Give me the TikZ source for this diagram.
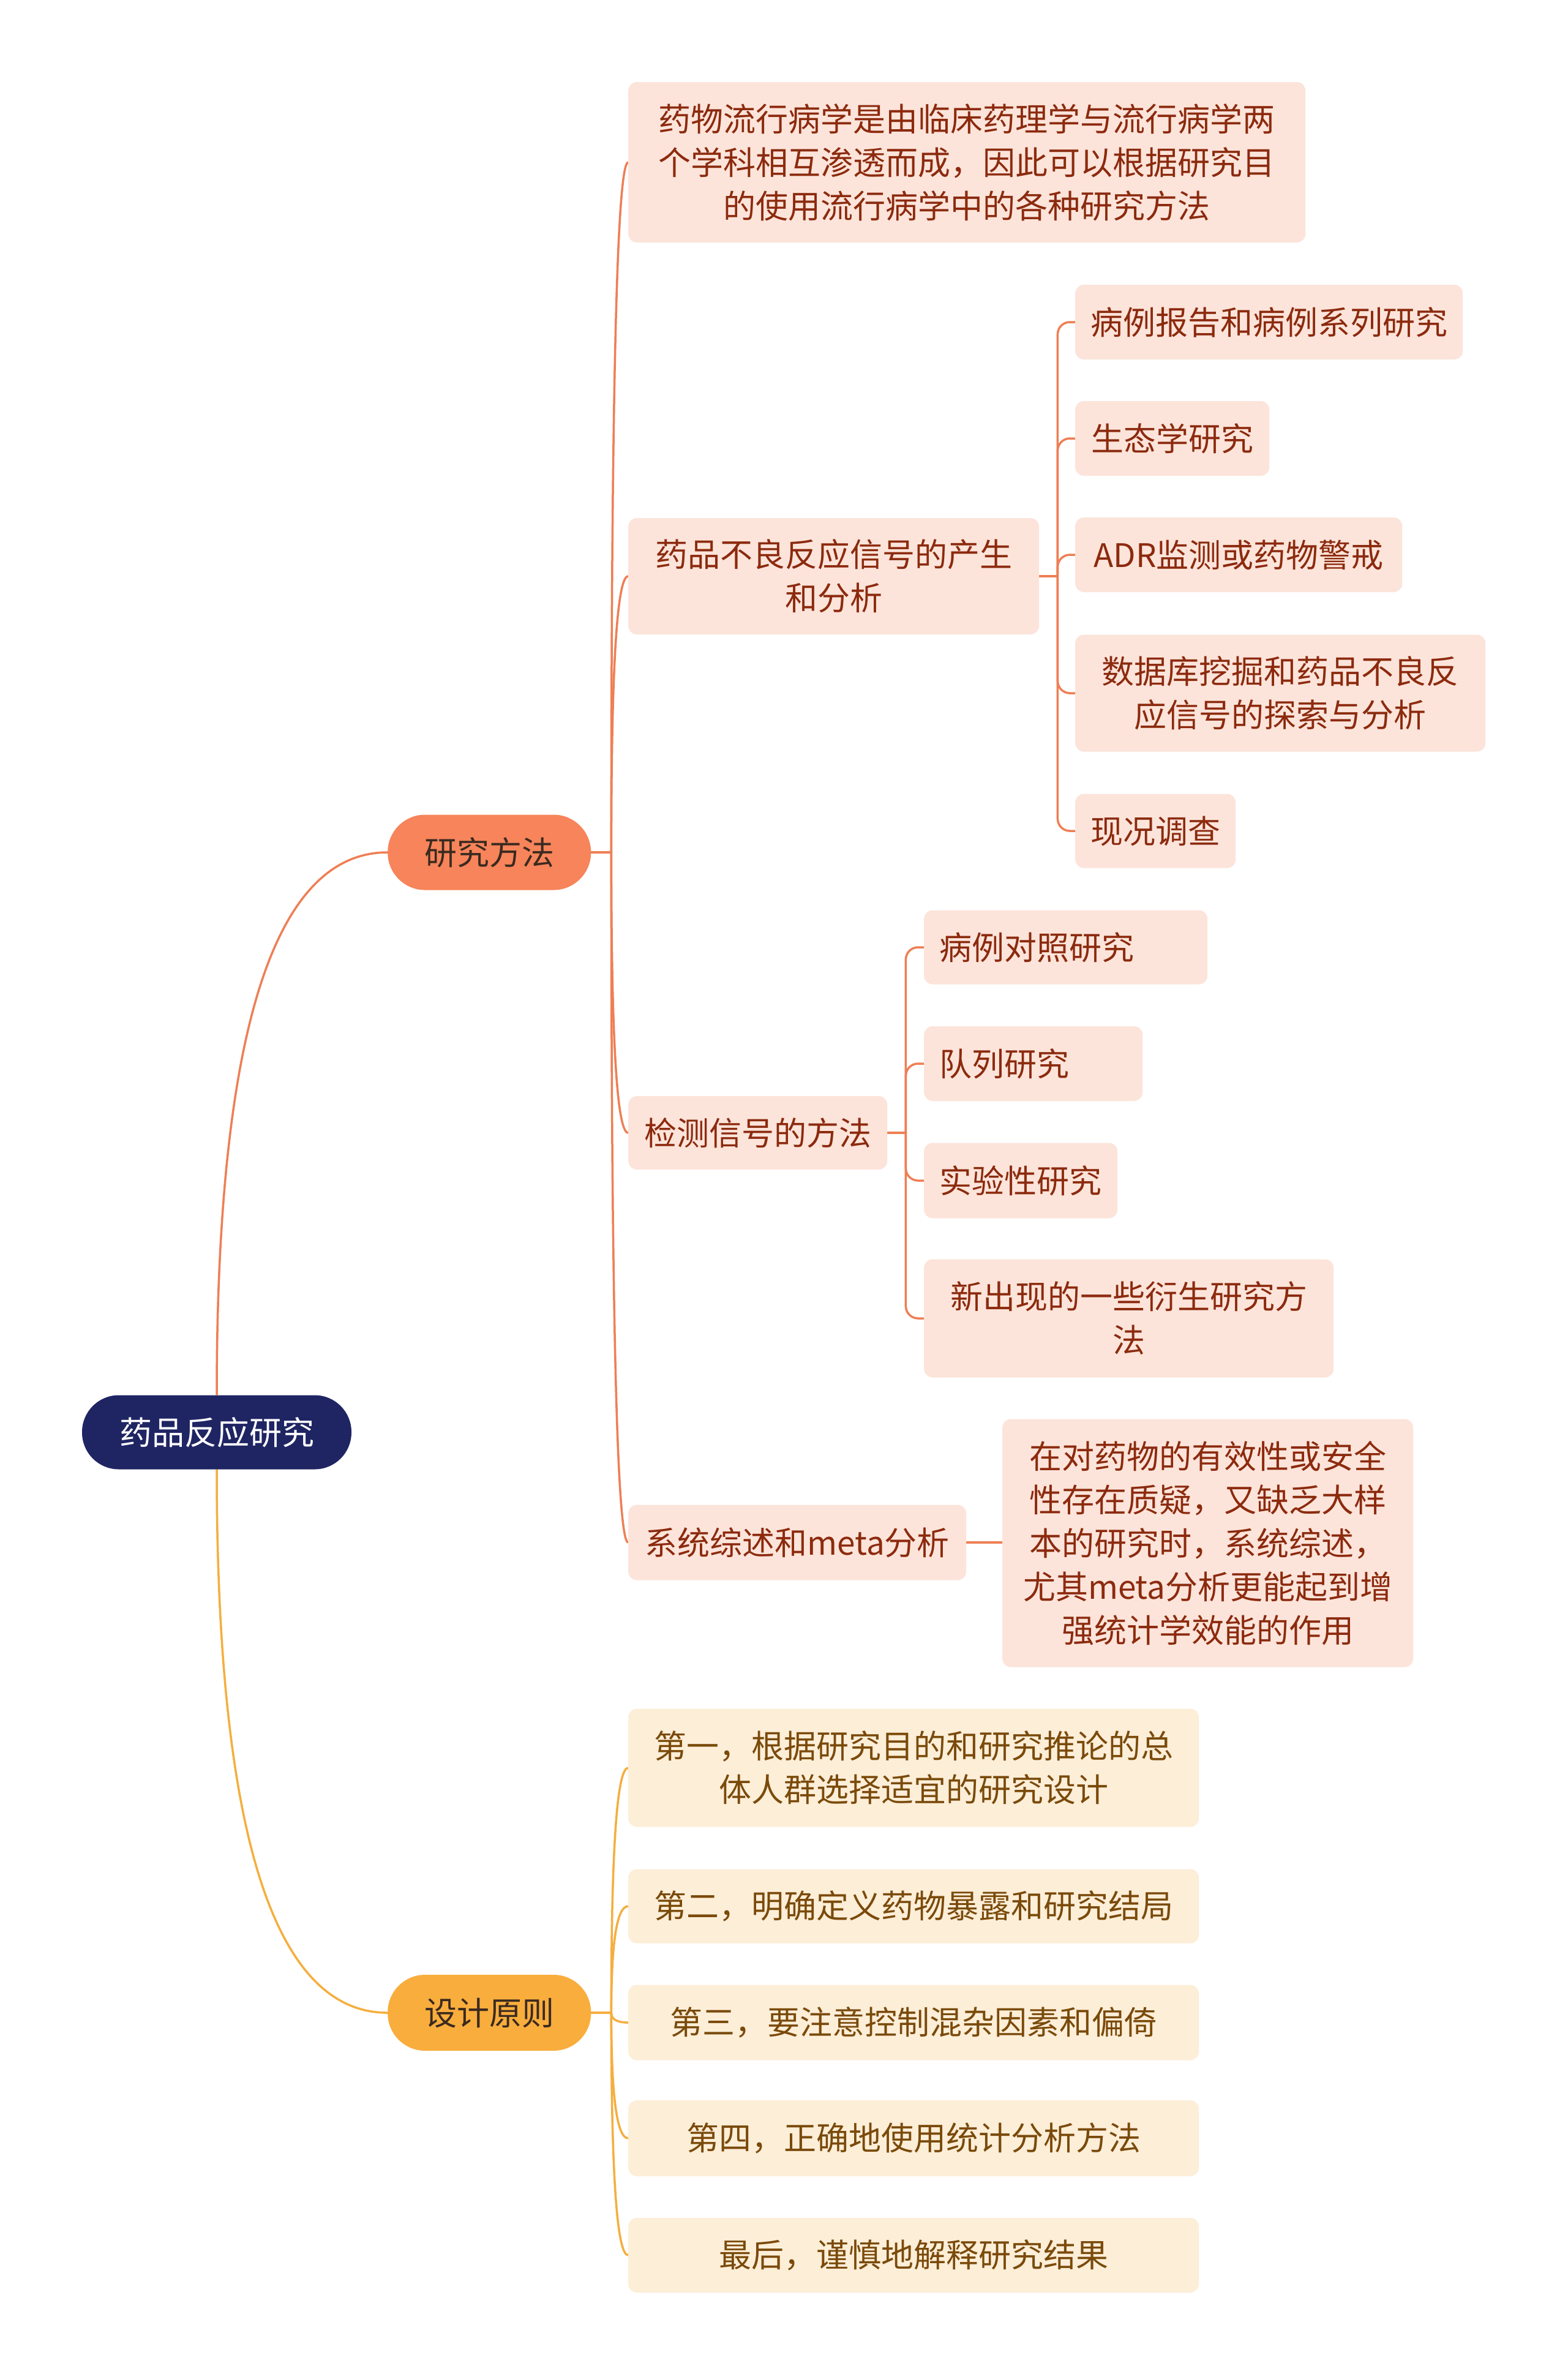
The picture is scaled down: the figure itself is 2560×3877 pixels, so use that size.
\documentclass[tikz,border=0pt]{standalone}
\usepackage{fontspec}
\setmainfont{Noto Sans CJK SC}
\usetikzlibrary{calc,backgrounds}
\definecolor{rootfill}{HTML}{1F2563}
\definecolor{orangefill}{HTML}{F7845A}
\definecolor{yellowfill}{HTML}{F9AD3C}
\definecolor{mainText}{HTML}{3A2A20}
\definecolor{pinkfill}{HTML}{FCE4DA}
\definecolor{pinktext}{HTML}{8C2A0E}
\definecolor{creamfill}{HTML}{FDEED8}
\definecolor{creamtext}{HTML}{7A4A0A}
\definecolor{oline}{HTML}{EE7F55}
\definecolor{yline}{HTML}{F5AE3E}
\tikzset{
  base/.style={align=center, inner sep=0pt, font=\fontsize{53}{71}\selectfont},
  rootnode/.style={base, anchor=center, fill=rootfill, text=white, rounded corners=60pt},
  mainO/.style={base, anchor=west, fill=orangefill, text=mainText, rounded corners=61pt},
  mainY/.style={base, anchor=west, fill=yellowfill, text=mainText, rounded corners=61pt},
  pinkbox/.style={base, anchor=west, fill=pinkfill, text=pinktext, rounded corners=14pt},
  creambox/.style={base, anchor=west, fill=creamfill, text=creamtext, rounded corners=14pt},
  leftbox/.style 2 args={pinkbox, align=left, inner xsep=25pt, text width=#1pt-50pt, minimum height=#2pt},
  olink/.style={draw=oline, line width=3.5pt},
  ylink/.style={draw=yline, line width=3.5pt},
  elbowO/.style={olink, rounded corners=20pt},
  wh/.style 2 args={minimum width=#1pt, minimum height=#2pt},
}
\newcommand\qcurve[3]{%
  \coordinate (k-#3) at (#2 |- #3.west);
  \draw[#1] (#2) .. controls ($(#2)!2/3!(k-#3)$) and ($(#3.west)!2/3!(k-#3)$) .. (#3.west);
}
\begin{document}
\begin{tikzpicture}[x=1pt,y=-1pt]
\useasboundingbox (0,0) rectangle (2560,3877);

% root and main branches
\node[rootnode, wh={440}{121}] (root) at (354,2339) {药品反应研究};
\node[mainO, wh={332}{123}] (rm) at (633,1392) {研究方法};
\node[mainY, wh={332}{124}] (dp) at (633,3287) {设计原则};

% level 2 under 研究方法
\node[pinkbox, wh={1106}{262}] (A) at (1026,265) {药物流行病学是由临床药理学与流行病学两\\个学科相互渗透而成，因此可以根据研究目\\的使用流行病学中的各种研究方法};
\node[pinkbox, wh={671}{190}] (B) at (1026,941) {药品不良反应信号的产生\\和分析};
\node[pinkbox, wh={423}{120}] (C) at (1026,1850) {检测信号的方法};
\node[pinkbox, wh={552}{123}] (D) at (1026,2519) {系统综述和meta分析};

% level 3 under B
\node[pinkbox, wh={633}{122}] (B1) at (1756,526) {病例报告和病例系列研究};
\node[pinkbox, wh={317}{122}] (B2) at (1756,716) {生态学研究};
\node[pinkbox, wh={534}{122}] (B3) at (1756,906) {ADR监测或药物警戒};
\node[pinkbox, wh={670}{191}] (B4) at (1756,1132) {数据库挖掘和药品不良反\\应信号的探索与分析};
\node[pinkbox, wh={262}{121}] (B5) at (1756,1357) {现况调查};

% level 3 under C
\node[leftbox={463}{121}] (C1) at (1509,1547) {病例对照研究};
\node[leftbox={357}{122}] (C2) at (1509,1737) {队列研究};
\node[pinkbox, wh={316}{123}] (C3) at (1509,1928) {实验性研究};
\node[pinkbox, wh={669}{193}] (C4) at (1509,2153) {新出现的一些衍生研究方\\法};

% level 3 under D
\node[pinkbox, wh={671}{405}] (D1) at (1637,2520) {在对药物的有效性或安全\\性存在质疑，又缺乏大样\\本的研究时，系统综述，\\尤其meta分析更能起到增\\强统计学效能的作用};

% level 2 under 设计原则
\node[creambox, wh={932}{193}] (E1) at (1026,2887) {第一，根据研究目的和研究推论的总\\体人群选择适宜的研究设计};
\node[creambox, wh={932}{121}] (E2) at (1026,3113) {第二，明确定义药物暴露和研究结局};
\node[creambox, wh={932}{123}] (E3) at (1026,3303) {第三，要注意控制混杂因素和偏倚};
\node[creambox, wh={932}{124}] (E4) at (1026,3492) {第四，正确地使用统计分析方法};
\node[creambox, wh={932}{122}] (E5) at (1026,3683) {最后，谨慎地解释研究结果};

\begin{scope}[on background layer]
  \fill[white] (0,0) rectangle (2560,3877);
  % root to main branches
  \qcurve{olink}{root.north}{rm}
  \qcurve{ylink}{root.south}{dp}

  % 研究方法 to its children
  \draw[olink] (rm.east) -- ++(33,0) coordinate (t1);
  \qcurve{olink}{t1}{A}
  \qcurve{olink}{t1}{B}
  \qcurve{olink}{t1}{C}
  \qcurve{olink}{t1}{D}

  % B to its children
  \draw[olink] (B.east) -- ++(30,0) coordinate (tb);
  \foreach \n in {B1,B2,B3,B4,B5} \draw[elbowO] (tb) |- (\n.west);

  % C to its children
  \draw[olink] (C.east) -- ++(30,0) coordinate (tc);
  \foreach \n in {C1,C2,C3,C4} \draw[elbowO] (tc) |- (\n.west);

  % D to D1
  \draw[olink] (D.east) -- (D.east -| D1.west);

  % 设计原则 to its children
  \draw[ylink] (dp.east) -- ++(33,0) coordinate (t2);
  \qcurve{ylink}{t2}{E1}
  \qcurve{ylink}{t2}{E2}
  \qcurve{ylink}{t2}{E3}
  \qcurve{ylink}{t2}{E4}
  \qcurve{ylink}{t2}{E5}
\end{scope}
\end{tikzpicture}
\end{document}
